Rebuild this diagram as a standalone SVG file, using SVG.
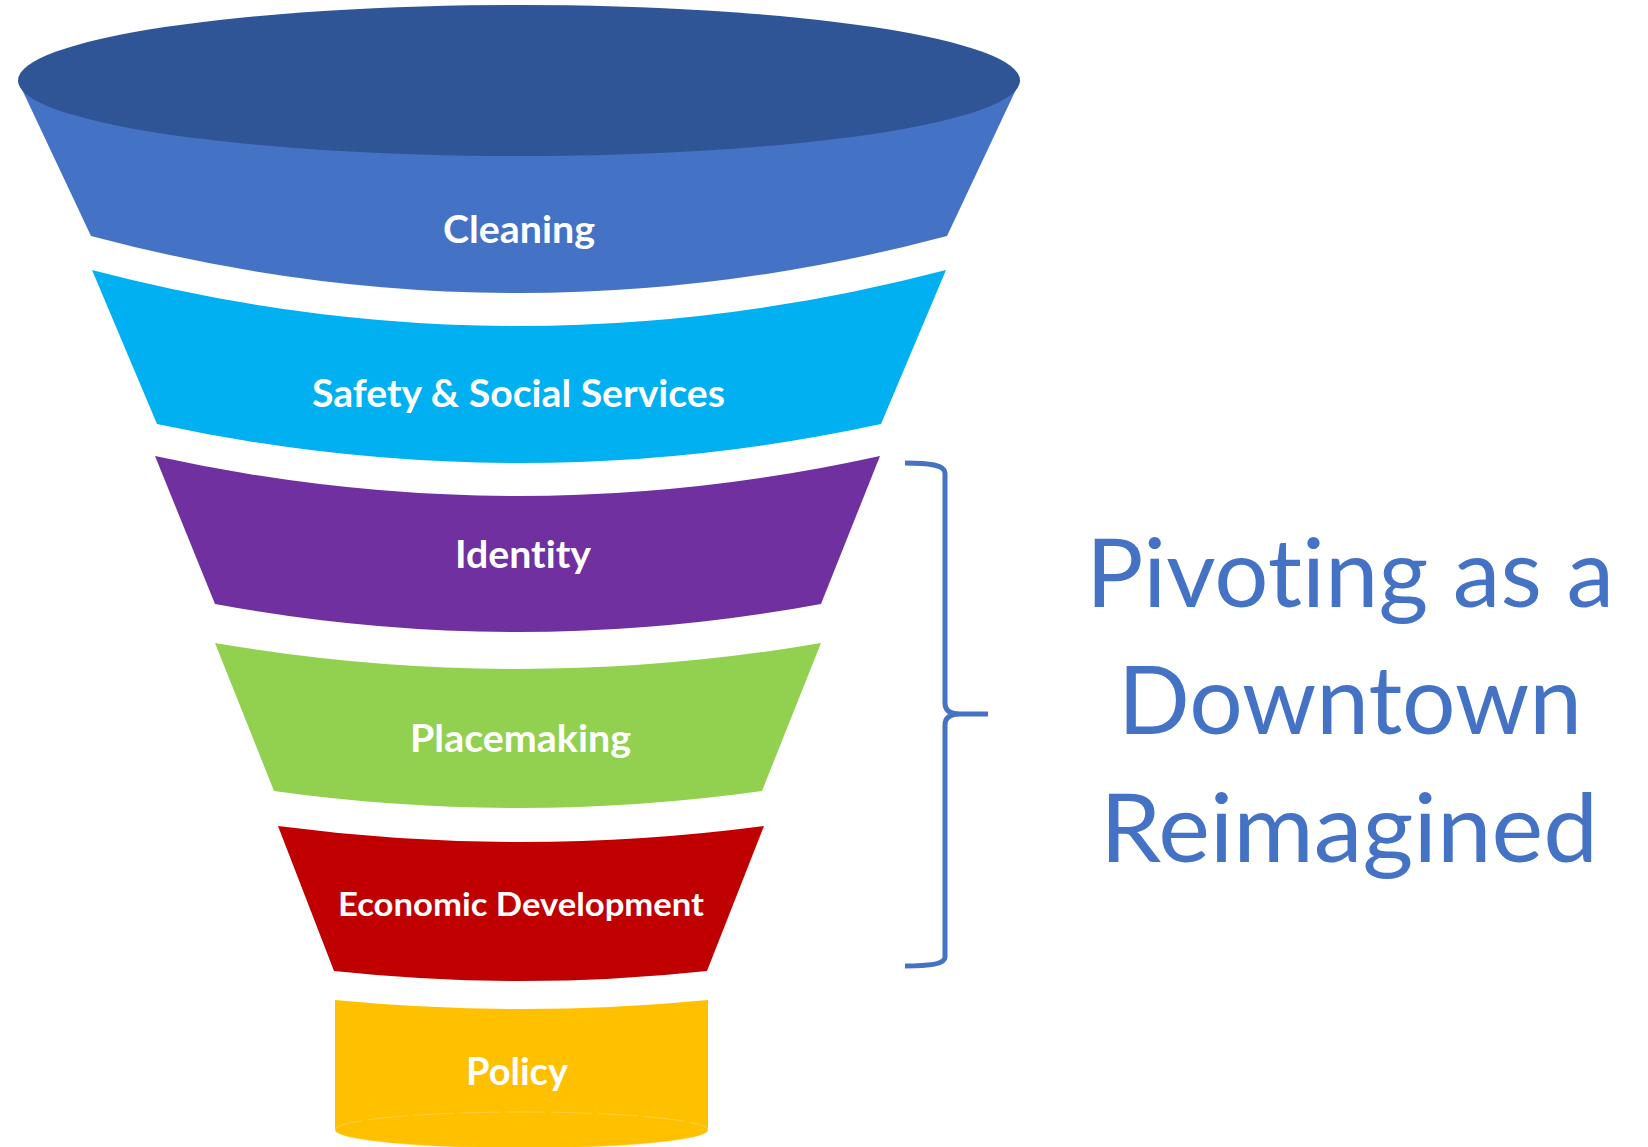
<svg xmlns="http://www.w3.org/2000/svg" width="1648" height="1147" viewBox="0 0 1648 1147">
<style>
text{font-variant-ligatures:none;font-feature-settings:"liga" 0,"clig" 0,"dlig" 0}
.lbl{font-family:Lato,"Open Sans","Liberation Sans",sans-serif;font-weight:bold;fill:#FFFFFF;text-anchor:middle;font-size:38px}
.big{font-family:Lato,"Open Sans","Liberation Sans",sans-serif;fill:#4472C4;text-anchor:middle;font-size:95px}
.brk38{font-size:38.02px}
.brk95{font-size:95.02px}
.brace{fill:none;stroke:#4472C4;stroke-width:5;stroke-linecap:butt;stroke-linejoin:round}
</style>
<rect width="1648" height="1147" fill="#FFFFFF"/>
<g id="cleaning">
<path d="M18,81 L91,236 Q519,350 947,236 L1020,81 Z" fill="#4472C4"/>
<ellipse cx="519" cy="80.5" rx="501" ry="75.5" fill="#2F5597"/>
<text class="lbl" x="519" y="243" textLength="152" lengthAdjust="spacingAndGlyphs">Cleaning</text>
</g>
<g id="safety">
<path d="M92,270 Q519,382 946,270 L881,424 Q519,502 157,424 Z" fill="#00B0F0"/>
<text class="lbl" x="518.5" y="407" textLength="413" lengthAdjust="spacingAndGlyphs">Safety &amp; Social Services</text>
</g>
<g id="identity">
<path d="M155,456 Q518,536 880,456 L821,604 Q518,660 215,604 Z" fill="#7030A0"/>
<text class="lbl" x="523" y="568" textLength="136" lengthAdjust="spacingAndGlyphs">Ident<tspan class="brk38">ity</tspan></text>
</g>
<g id="placemaking">
<path d="M215,643 Q518,695 821,643 L762,791 Q518,825 274,791 Z" fill="#92D050"/>
<text class="lbl" x="520.5" y="752" textLength="221" lengthAdjust="spacingAndGlyphs">Placemaking</text>
</g>
<g id="economic">
<path d="M278,826 Q521,858 764,826 L707,971 Q521,991 334,971 Z" fill="#C00000"/>
<text class="lbl" x="521" y="916" textLength="366" lengthAdjust="spacingAndGlyphs" style="font-size:33px">Economic Development</text>
</g>
<g id="policy">
<path d="M335,1000 Q521.5,1018 708,1000 L708,1130 A186.5,18 0 0 1 335,1130 Z" fill="#FFC000"/>
<ellipse cx="521.5" cy="1130" rx="186.5" ry="18" fill="none" stroke="#FFE08A" stroke-width="1" stroke-dasharray="40 6" opacity="0.45"/>
<text class="lbl" x="517" y="1085" textLength="102" lengthAdjust="spacingAndGlyphs">Policy</text>
</g>
<g id="connectors">
<path class="brace" d="M905,463 C930,463 945,465 945,473 L945,703 C945,710 950,714 960,714 L988,714 M960,714 C950,714 945,718 945,725 L945,957 C945,964 930,966 905,966"/>
</g>
<g id="title">
<text class="big" x="1350" y="607" textLength="528" lengthAdjust="spacingAndGlyphs">Pivot<tspan class="brk95">ing as a</tspan></text>
<text class="big" x="1350" y="734" textLength="464" lengthAdjust="spacingAndGlyphs">Downtown</text>
<text class="big" x="1349" y="862" textLength="498" lengthAdjust="spacingAndGlyphs">Reimagined</text>
</g>
</svg>
